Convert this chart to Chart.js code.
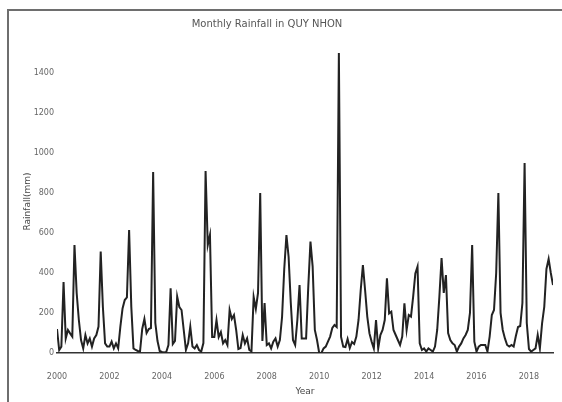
<!DOCTYPE html>
<html>
<head>
<meta charset="utf-8">
<script src="https://cdn.jsdelivr.net/npm/chart.js@4.4.1/dist/chart.umd.min.js"></script>
<style>
html, body { margin: 0; padding: 0; background: #fff; }
#wrap { position: relative; width: 562px; height: 402px; overflow: hidden; }
#frame { position: absolute; left: 7px; top: 9px; width: 620px; height: 460px; border-left: 2px solid #6e6e6e; border-top: 2px solid #6e6e6e; }
canvas { position: absolute; left: 0; top: 0; }
</style>
</head>
<body>
<div id="wrap"><div id="frame"></div><canvas id="canvas" width="562" height="402"></canvas></div>
<script>
const chartTitle = 'Monthly Rainfall in QUY NHON';

// monthly rainfall (mm), Jan..Dec
const rain2000 = [120, 15, 32, 355, 73, 115, 98, 82, 540, 300, 165, 65];
const rain2001 = [23, 90, 48, 73, 32, 73, 90, 132, 507, 230, 48, 32];
const rain2002 = [32, 57, 23, 48, 23, 132, 223, 265, 278, 615, 232, 23];
const rain2003 = [15, 10, 8, 120, 170, 100, 120, 125, 905, 150, 60, 10];
const rain2004 = [5, 3, 5, 40, 323, 45, 60, 282, 230, 215, 115, 15];
const rain2005 = [48, 132, 32, 23, 40, 15, 7, 50, 910, 540, 590, 80];
const rain2006 = [80, 165, 80, 105, 48, 65, 40, 215, 170, 190, 115, 20];
const rain2007 = [25, 90, 48, 73, 15, 8, 280, 220, 300, 800, 60, 250];
const rain2008 = [40, 48, 23, 57, 73, 32, 65, 180, 420, 590, 480, 250];
const rain2009 = [65, 40, 165, 340, 73, 73, 73, 332, 557, 432, 115, 65];
const rain2010 = [0, 0, 23, 32, 57, 82, 125, 140, 130, 1500, 80, 32];
const rain2011 = [30, 70, 25, 55, 45, 82, 165, 315, 440, 315, 182, 98];
const rain2012 = [57, 23, 165, 23, 90, 115, 165, 373, 198, 207, 115, 90];
const rain2013 = [65, 40, 82, 248, 115, 190, 182, 282, 398, 432, 48, 15];
const rain2014 = [23, 7, 23, 15, 7, 32, 115, 282, 475, 300, 390, 100];
const rain2015 = [65, 48, 40, 7, 32, 48, 73, 90, 115, 200, 540, 57];
const rain2016 = [7, 32, 40, 40, 40, 7, 82, 190, 215, 400, 800, 200];
const rain2017 = [115, 73, 40, 32, 40, 32, 85, 130, 135, 250, 950, 150];
const rain2018 = [20, 7, 15, 23, 90, 23, 148, 230, 420, 470, 400, 340];

const yearTicks = [2000, 2002, 2004, 2006, 2008, 2010, 2012, 2014, 2016, 2018];
const rainTicks = [0, 200, 400, 600, 800, 1000, 1200, 1400];

const rainfall = [].concat(rain2000, rain2001, rain2002, rain2003, rain2004, rain2005,
    rain2006, rain2007, rain2008, rain2009, rain2010, rain2011, rain2012, rain2013,
    rain2014, rain2015, rain2016, rain2017, rain2018);

const points = rainfall.map((v, i) => ({ x: i, y: v }));

const titleAt = {
    id: 'titleAt',
    afterDraw(chart) {
        const c = chart.ctx;
        c.save();
        c.font = '10px "DejaVu Sans"';
        c.fillStyle = '#555';
        c.textAlign = 'center';
        c.textBaseline = 'middle';
        c.fillText(chartTitle, 267, 24);
        c.restore();
    }
};

const ctx = document.getElementById('canvas').getContext('2d');
new Chart(ctx, {
    type: 'line',
    data: {
        datasets: [{
            data: points,
            borderColor: '#222',
            borderWidth: 2,
            pointRadius: 0,
            tension: 0,
            fill: false
        }]
    },
    options: {
        responsive: false,
        animation: false,
        layout: { padding: { top: 50, right: 9, left: 0, bottom: 0 } },
        plugins: {
            legend: { display: false },
            tooltip: { enabled: false }
        },
        scales: {
            x: {
                type: 'linear',
                min: 0,
                max: rainfall.length - 1,
                afterBuildTicks: s => { s.ticks = yearTicks.map(y => ({ value: (y - 2000) * 12 })); },
                afterFit: s => { s.height = 49; },
                grid: { display: false, drawTicks: false },
                border: { display: true, color: '#333', width: 1.5 },
                ticks: {
                    padding: 19,
                    maxRotation: 0,
                    autoSkip: false,
                    color: '#666',
                    font: { family: 'DejaVu Sans', size: 8 },
                    callback: v => String(2000 + v / 12)
                },
                title: {
                    display: true,
                    text: 'Year',
                    color: '#444',
                    font: { family: 'DejaVu Sans', size: 9 },
                    padding: { top: 0, bottom: 5 }
                }
            },
            y: {
                min: 0,
                max: 1515,
                afterBuildTicks: s => { s.ticks = rainTicks.map(v => ({ value: v })); },
                afterFit: s => { s.width = 57; },
                grid: { display: false, drawTicks: false },
                border: { display: false },
                ticks: {
                    padding: 3,
                    color: '#666',
                    font: { family: 'DejaVu Sans', size: 8 },
                    callback: v => String(v)
                },
                title: {
                    display: true,
                    text: 'Rainfall(mm)',
                    color: '#444',
                    font: { family: 'DejaVu Sans', size: 9 },
                    padding: { top: 22, bottom: 0 }
                }
            }
        }
    },
    plugins: [titleAt]
});
</script>
</body>
</html>
